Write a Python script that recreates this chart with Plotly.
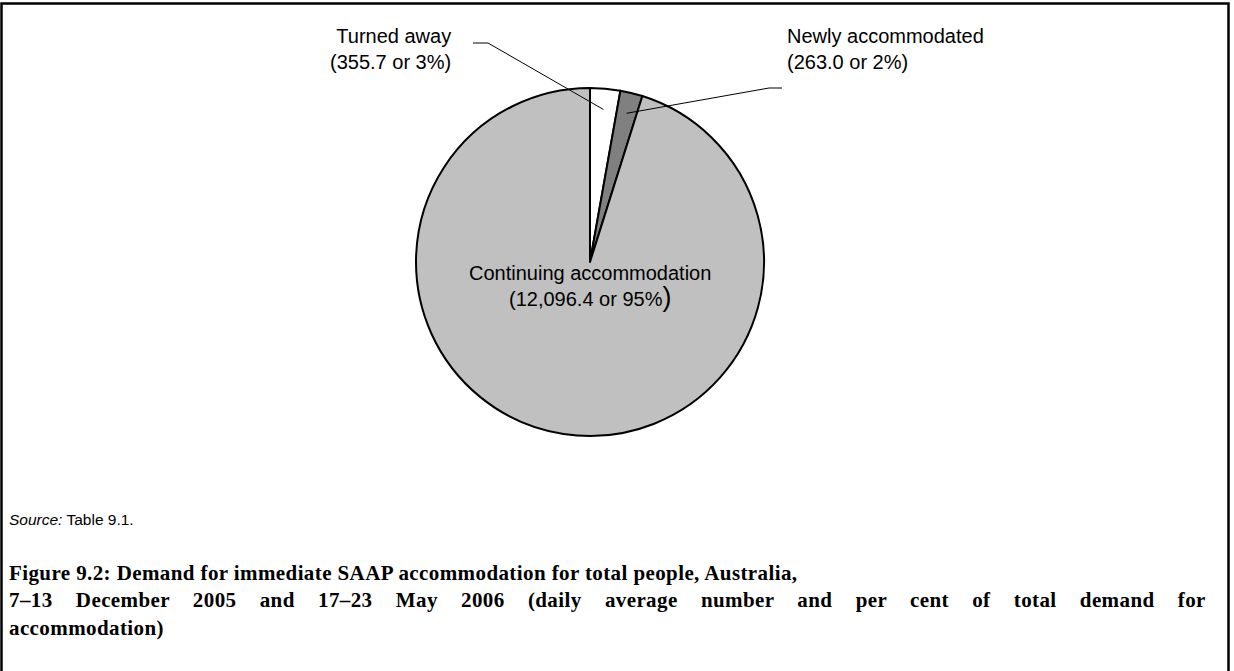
import math
import plotly.graph_objects as go

# ---- data ----
categories = ["Turned away", "Newly accommodated", "Continuing accommodation"]
values = [355.7, 263.0, 12096.4]
percents = ["3%", "2%", "95%"]
value_labels = ["355.7", "263.0", "12,096.4"]
colors = ["#FFFFFF", "#808080", "#C0C0C0"]

W, H = 1234, 671
CX, CY, R = 590, 262, 174  # pie centre / radius in pixels


def px(x):
    return x / W


def py(y):
    return 1 - y / H


fig = go.Figure()
fig.add_trace(go.Pie(
    labels=categories,
    values=values,
    marker=dict(colors=colors, line=dict(color="black", width=2)),
    sort=False,
    direction="clockwise",
    rotation=0,
    textinfo="none",
    hoverinfo="label+value+percent",
    showlegend=False,
    domain=dict(x=[px(CX - R), px(CX + R)], y=[py(CY + R), py(CY - R)]),
))

# slice mid-angles (clockwise from 12 o'clock)
total = sum(values)
mids = []
acc = 0.0
for v in values:
    mids.append((acc + v / 2) / total * 360)
    acc += v


def slice_point(i, frac=0.88):
    a = math.radians(mids[i])
    return CX + frac * R * math.sin(a), CY - frac * R * math.cos(a)


FONT = "Arial, Liberation Sans, sans-serif"
LBL = 20
shapes = []
annotations = []

# Turned away label + leader
tx, ty = slice_point(0)
shapes.append(dict(type="path", xref="paper", yref="paper",
                   path=f"M {px(473)} {py(43)} L {px(488)} {py(43)} L {px(tx)} {py(ty)}",
                   line=dict(color="black", width=1)))
annotations.append(dict(x=px(453), y=py(49), xref="paper", yref="paper",
                        xanchor="right", yanchor="middle", align="right",
                        text=f"{categories[0]}<br>({value_labels[0]} or {percents[0]})",
                        showarrow=False, font=dict(family=FONT, size=LBL, color="black")))

# Newly accommodated label + leader
nx, ny = slice_point(1)
shapes.append(dict(type="path", xref="paper", yref="paper",
                   path=f"M {px(nx)} {py(ny)} L {px(769)} {py(88)} L {px(782)} {py(88)}",
                   line=dict(color="black", width=1)))
annotations.append(dict(x=px(785), y=py(49), xref="paper", yref="paper",
                        xanchor="left", yanchor="middle", align="left",
                        text=f"{categories[1]}<br>({value_labels[1]} or {percents[1]})",
                        showarrow=False, font=dict(family=FONT, size=LBL, color="black")))

# Continuing accommodation label (inside)
annotations.append(dict(x=px(CX), y=py(273), xref="paper", yref="paper",
                        xanchor="center", yanchor="middle",
                        text=categories[2], showarrow=False,
                        font=dict(family=FONT, size=LBL, color="black")))
annotations.append(dict(x=px(CX), y=py(297), xref="paper", yref="paper",
                        xanchor="center", yanchor="middle",
                        text=f"({value_labels[2]} or {percents[2]}<span style='font-size:27px'>)</span>",
                        showarrow=False, font=dict(family=FONT, size=LBL, color="black")))

# Source note
annotations.append(dict(x=px(7), y=py(519), xref="paper", yref="paper",
                        xanchor="left", yanchor="middle",
                        text="<i>Source:</i> Table 9.1.", showarrow=False,
                        font=dict(family=FONT, size=15.5, color="black")))

# Figure caption (second line justified to full width)
annotations.append(dict(x=px(7), y=py(600), xref="paper", yref="paper",
                        xanchor="left", yanchor="middle", align="left",
                        text="<b><span style='letter-spacing:0.4px'>Figure 9.2: Demand for immediate SAAP accommodation for total people, Australia,</span><br>"
                             "<span style='letter-spacing:0.4px;word-spacing:17.6px'>7–13 December 2005 and 17–23 May 2006 (daily average number and per cent of total demand for</span><br>"
                             "<span style='letter-spacing:0.4px'>accommodation)</span></b>",
                        showarrow=False,
                        font=dict(family="Liberation Serif, Times New Roman, serif", size=21, color="black")))

# frame
shapes.append(dict(type="rect", xref="paper", yref="paper",
                   x0=px(1.5), x1=px(1228.5), y0=py(680), y1=py(3.5),
                   line=dict(color="black", width=2.5)))

fig.update_layout(
    width=W, height=H,
    margin=dict(l=0, r=0, t=0, b=0),
    paper_bgcolor="white", plot_bgcolor="white",
    shapes=shapes, annotations=annotations,
)

fig.write_html("out.html", config={"displayModeBar": False},
               post_script="document.body.style.margin='0';document.body.style.padding='0';")
